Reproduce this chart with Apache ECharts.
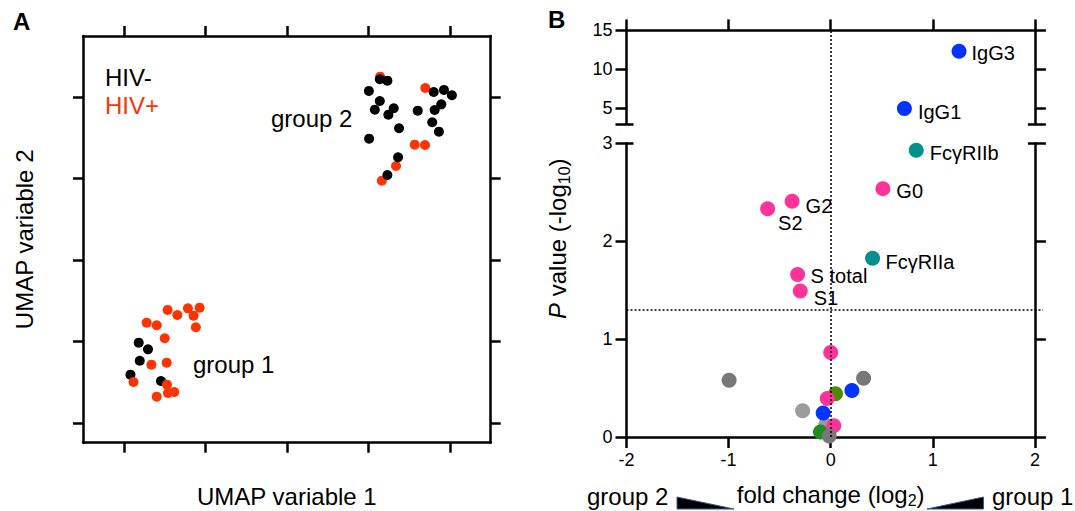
<!DOCTYPE html>
<html><head><meta charset="utf-8">
<script src="https://cdn.jsdelivr.net/npm/echarts@6/dist/echarts.min.js"></script>
<style>html,body{margin:0;padding:0;background:#fff}#c{width:1075px;height:511px}</style>
</head><body><div id="c"></div>
<script>
// ---------- Panel A: UMAP ----------
const umapTicks = [1, 2, 3, 4, 5];
const hivNegGroup1X = [1.183, 1.297, 1.196, 1.082, 1.456];
const hivNegGroup1Y = [1.985, 1.904, 1.764, 1.593, 1.515];
const hivPosGroup1X = [1.538, 1.657, 1.787, 1.930, 1.856, 1.884, 1.281, 1.404, 1.502, 1.339, 1.526, 1.119, 1.530, 1.542, 1.620, 1.404];
const hivPosGroup1Y = [2.387, 2.325, 2.407, 2.415, 2.317, 2.174, 2.231, 2.199, 2.039, 1.715, 1.740, 1.503, 1.470, 1.368, 1.380, 1.323];
const hivPosGroup2X = [4.144, 4.698, 4.568, 4.694, 4.339, 4.165];
const hivPosGroup2Y = [5.249, 5.110, 4.415, 4.411, 4.153, 3.973];
const hivNegGroup2X = [4.140, 4.233, 4.006, 4.801, 4.927, 5.024, 4.140, 4.079, 4.311, 4.245, 4.605, 4.894, 4.813, 4.783, 4.376, 4.865, 4.009, 4.364, 4.233];
const hivNegGroup2Y = [5.217, 5.200, 5.074, 5.061, 5.086, 5.021, 4.951, 4.844, 4.861, 4.783, 4.832, 4.910, 4.840, 4.690, 4.616, 4.574, 4.488, 4.260, 4.043];

// ---------- Panel B: volcano ----------
const fcTicks = [-2, -1, 0, 1, 2];
const upperPTicks = [5, 10, 15];
const lowerPTicks = [0, 1, 2, 3];
const pThreshold = 1.301; // -log10(0.05)
const labelledNames = ['IgG3', 'IgG1', 'FcγRIIb', 'G0', 'G2', 'S2', 'FcγRIIa', 'S total', 'S1'];
const labelledFC = [1.257, 0.722, 0.838, 0.511, -0.378, -0.618, 0.410, -0.324, -0.298];
const labelledLogP = [12.34, 5.00, 2.93, 2.537, 2.409, 2.332, 1.826, 1.660, 1.492];
const labelledClass = ['IgG', 'IgG', 'FcR', 'glycan', 'glycan', 'glycan', 'FcR', 'glycan', 'glycan'];
const otherFC = [-0.05, -0.100, 0.030, -0.015, -0.275, -0.074, 0.047, -0.034, 0.208, 0.322, -0.995, 0.000];
const otherLogP = [0.12, 0.051, 0.115, 0.010, 0.268, 0.244, 0.441, 0.393, 0.475, 0.600, 0.580, 0.864];
const otherClass = ['otherLight', 'green', 'glycan', 'other', 'otherLight', 'IgG', 'olive', 'glycan', 'IgG', 'other', 'other', 'glycan'];

// ---------- styles ----------
const FONT = "'Liberation Sans', Arial, Helvetica, sans-serif";
const palette = {IgG: '#0433FF', FcR: '#00918C', glycan: '#FF3399', other: '#777777', otherLight: '#9B9B9B', olive: '#4C8C00', green: '#1E8C1E'};
const labelPlacement = {
  'IgG3': {distance: 5, offset: [0, 2]},
  'IgG1': {distance: 6, offset: [0, 4]},
  'FcγRIIb': {distance: 6, offset: [0, 3]},
  'G0': {distance: 6, offset: [0, 2.5]},
  'G2': {distance: 6, offset: [0, 5]},
  'S2': {distance: 0, offset: [3, 14]},
  'FcγRIIa': {distance: 5.5, offset: [0, 3.5]},
  'S total': {distance: 5.5, offset: [0, 2]},
  'S1': {distance: 6, offset: [0, 7]}
};
const AX = {color: '#000', width: 2.5};
const lowerPxPerUnit = (437 - 143.3) / 3;
const fullYMax = (437 - 30.4) / lowerPxPerUnit;
const fullXMax = 2 + (1043 - 1034.9) / ((1034.9 - 626.5) / 4);

const zip = (xs, ys) => xs.map((x, i) => [x, ys[i]]);

function labelledPoints(filterFn) {
  const out = [];
  labelledNames.forEach((n, i) => {
    if (!filterFn(labelledLogP[i])) return;
    const lp = labelPlacement[n];
    out.push({
      name: n, value: [labelledFC[i], labelledLogP[i]],
      itemStyle: {color: palette[labelledClass[i]]},
      label: {show: true, position: 'right', distance: lp.distance, offset: lp.offset, formatter: n,
        fontSize: 20, color: '#000', fontFamily: FONT}
    });
  });
  return out;
}
const otherPoints = otherFC.map((x, i) => ({value: [x, otherLogP[i]], itemStyle: {color: palette[otherClass[i]]}}));

function boxAxis(o) {
  return Object.assign({
    type: 'value', splitLine: {show: false},
    axisLine: {show: true, onZero: false, lineStyle: AX},
    axisTick: {show: true, inside: false, length: 11, lineStyle: AX},
    axisLabel: {show: false},
    nameMoveOverlap: false
  }, o);
}
const tickLabel = {show: true, fontSize: 18, color: '#000', fontFamily: FONT, margin: 14};
function capAxis(o) {
  return Object.assign({
    type: 'value', splitLine: {show: false},
    axisLine: {show: false, onZero: false},
    axisTick: {show: true, inside: true, length: 7, customValues: [3], lineStyle: AX},
    axisLabel: {show: false}
  }, o);
}

const option = {
  animation: false,
  backgroundColor: '#fff',
  textStyle: {fontFamily: FONT},
  grid: [
    {left: 83, top: 36, width: 407.7, height: 406.7, outerBoundsMode: 'none', containLabel: false},
    {left: 626.5, top: 30.4, width: 408.4, height: 93.6, outerBoundsMode: 'none', containLabel: false},
    {left: 626.5, top: 143.3, width: 408.4, height: 293.7, outerBoundsMode: 'none', containLabel: false},
    {left: 626.5, top: 30.4, width: 416.5, height: 406.6, outerBoundsMode: 'none', containLabel: false}
  ],
  xAxis: [
    boxAxis({gridIndex: 0, position: 'bottom', min: 0.5, max: 5.5,
      axisTick: {show: true, length: 10, customValues: umapTicks, lineStyle: AX},
      name: 'UMAP variable 1', nameLocation: 'middle', nameGap: 42,
      nameTextStyle: {fontSize: 24, color: '#000', fontFamily: FONT}}),
    boxAxis({gridIndex: 0, position: 'top', min: 0.5, max: 5.5,
      axisTick: {show: true, length: 10, customValues: umapTicks, lineStyle: AX}}),
    boxAxis({gridIndex: 1, position: 'top', min: fcTicks[0], max: fcTicks[fcTicks.length - 1], interval: 1}),
    boxAxis({gridIndex: 2, position: 'bottom', min: fcTicks[0], max: fcTicks[fcTicks.length - 1], interval: 1,
      axisLabel: tickLabel,
      name: 'fold change (log{sub|2})', nameLocation: 'middle', nameGap: 43,
      nameTextStyle: {fontSize: 24, color: '#000', fontFamily: FONT, lineHeight: 28,
        rich: {sub: {fontSize: 16, color: '#000', fontFamily: FONT, verticalAlign: 'bottom', lineHeight: 16}}}}),
    {gridIndex: 3, type: 'value', min: -2, max: fullXMax, show: false, splitLine: {show: false}}
  ],
  yAxis: [
    boxAxis({gridIndex: 0, position: 'left', min: 0.758, max: 5.748,
      axisTick: {show: true, length: 10, customValues: umapTicks, lineStyle: AX},
      name: 'UMAP variable 2', nameLocation: 'middle', nameGap: 47,
      nameTextStyle: {fontSize: 24, color: '#000', fontFamily: FONT}}),
    boxAxis({gridIndex: 0, position: 'right', min: 0.758, max: 5.748,
      axisTick: {show: true, length: 10, customValues: umapTicks, lineStyle: AX}}),
    boxAxis({gridIndex: 1, position: 'left', min: 3, max: 15,
      axisTick: {show: true, length: 11, customValues: [3].concat(upperPTicks), lineStyle: AX},
      axisLabel: Object.assign({customValues: upperPTicks}, tickLabel)}),
    capAxis({gridIndex: 1, position: 'left', min: 3, max: 15}),
    boxAxis({gridIndex: 1, position: 'right', min: 3, max: 15,
      axisTick: {show: true, length: 11, customValues: [3].concat(upperPTicks), lineStyle: AX}}),
    capAxis({gridIndex: 1, position: 'right', min: 3, max: 15}),
    boxAxis({gridIndex: 2, position: 'left', min: lowerPTicks[0], max: lowerPTicks[lowerPTicks.length - 1], interval: 1,
      axisLabel: tickLabel}),
    capAxis({gridIndex: 2, position: 'left', min: 0, max: 3}),
    boxAxis({gridIndex: 2, position: 'right', min: 0, max: 3, interval: 1}),
    capAxis({gridIndex: 2, position: 'right', min: 0, max: 3}),
    {gridIndex: 3, type: 'value', min: 0, max: fullYMax, position: 'left',
      axisLine: {show: false, onZero: false}, axisTick: {show: false}, axisLabel: {show: false}, splitLine: {show: false},
      name: '{i|P} value (-log{sub|10})', nameLocation: 'middle', nameGap: 54, nameMoveOverlap: false,
      nameTextStyle: {fontSize: 24, color: '#000', fontFamily: FONT, lineHeight: 30, padding: [0, 10, 0, 0],
        rich: {i: {fontStyle: 'italic', fontSize: 24, color: '#000', fontFamily: FONT},
               sub: {fontSize: 16, color: '#000', fontFamily: FONT, verticalAlign: 'bottom', lineHeight: 16}}}}
  ],
  legend: {
    left: 95, top: 58, orient: 'vertical', itemGap: 0, itemWidth: 0, itemHeight: 28, icon: 'none',
    selectedMode: false,
    textStyle: {fontSize: 24, fontFamily: FONT, lineHeight: 28},
    data: [{name: 'HIV-', textStyle: {color: '#000'}}, {name: 'HIV+', textStyle: {color: '#FF3300'}}]
  },
  series: [
    {type: 'scatter', name: 'HIV-', xAxisIndex: 0, yAxisIndex: 0, symbolSize: 10, itemStyle: {color: '#000', opacity: 1}, data: zip(hivNegGroup1X, hivNegGroup1Y)},
    {type: 'scatter', name: 'HIV+', xAxisIndex: 0, yAxisIndex: 0, symbolSize: 10, itemStyle: {color: '#FF3300', opacity: 1}, data: zip(hivPosGroup1X, hivPosGroup1Y)},
    {type: 'scatter', name: 'HIV+', xAxisIndex: 0, yAxisIndex: 0, symbolSize: 10, itemStyle: {color: '#FF3300', opacity: 1}, data: zip(hivPosGroup2X, hivPosGroup2Y)},
    {type: 'scatter', name: 'HIV-', xAxisIndex: 0, yAxisIndex: 0, symbolSize: 10, itemStyle: {color: '#000', opacity: 1}, data: zip(hivNegGroup2X, hivNegGroup2Y)},
    {type: 'scatter', name: 'ref', xAxisIndex: 4, yAxisIndex: 10, data: [], z: 1, silent: true,
      markLine: {silent: true, symbol: ['none', 'none'], label: {show: false}, animation: false,
        lineStyle: {type: [2, 2], color: '#000', width: 1.5},
        data: [{xAxis: 0}, {yAxis: pThreshold}]}},
    {type: 'scatter', name: 'other', xAxisIndex: 3, yAxisIndex: 6, symbolSize: 15, z: 3, itemStyle: {opacity: 1}, data: otherPoints},
    {type: 'scatter', name: 'sigLower', xAxisIndex: 3, yAxisIndex: 6, symbolSize: 15, z: 3, itemStyle: {opacity: 1}, data: labelledPoints(v => v <= 3)},
    {type: 'scatter', name: 'sigUpper', xAxisIndex: 2, yAxisIndex: 2, symbolSize: 15, z: 3, itemStyle: {opacity: 1}, data: labelledPoints(v => v > 3)}
  ],
  graphic: [
    {type: 'text', left: 13, top: 9, style: {text: 'A', fontSize: 24, fontWeight: 'bold', fill: '#000', fontFamily: FONT}},
    {type: 'text', left: 548, top: 7, style: {text: 'B', fontSize: 24, fontWeight: 'bold', fill: '#000', fontFamily: FONT}},
    {type: 'text', left: 271, top: 106, style: {text: 'group 2', fontSize: 24, fill: '#000', fontFamily: FONT}},
    {type: 'text', left: 193, top: 352, style: {text: 'group 1', fontSize: 24, fill: '#000', fontFamily: FONT}},
    {type: 'text', left: 587, top: 484, style: {text: 'group 2', fontSize: 24, fill: '#000', fontFamily: FONT}},
    {type: 'text', left: 992, top: 484, style: {text: 'group 1', fontSize: 24, fill: '#000', fontFamily: FONT}},
    {type: 'polygon', shape: {points: [[677, 497], [677, 509], [734, 509]]}, style: {fill: '#000', stroke: '#3a5a9a', lineWidth: 1}},
    {type: 'polygon', shape: {points: [[927, 509], [983.5, 497], [983.5, 509]]}, style: {fill: '#000', stroke: '#3a5a9a', lineWidth: 1}}
  ]
};

const chart = echarts.init(document.getElementById('c'), null, {renderer: 'svg'});
chart.setOption(option);
</script>
</body></html>
